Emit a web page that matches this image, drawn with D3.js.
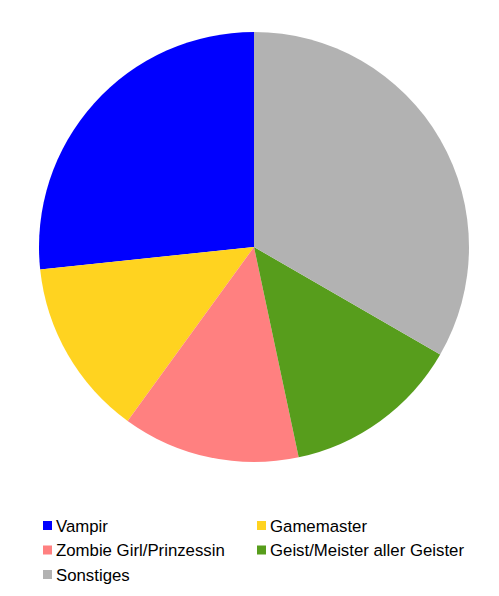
<!DOCTYPE html>
<html><head><meta charset="utf-8">
<script src="https://cdn.jsdelivr.net/npm/d3@7"></script>
<style>body{margin:0;background:#fff}</style>
</head><body>
<svg id="c" width="499" height="596"></svg>
<script>
const categories = ["Vampir","Gamemaster","Zombie Girl/Prinzessin","Geist/Meister aller Geister","Sonstiges"];
const values = [4,2,2,2,5];
const colors = ["#0000ff","#ffd320","#ff8080","#579d1c","#b2b2b2"];

const svg = d3.select("#c");
const cx = 254, cy = 247, r = 215;
const pie = d3.pie().sort(null).startAngle(0).endAngle(-2*Math.PI);
const arc = d3.arc().innerRadius(0).outerRadius(r);
const color = d3.scaleOrdinal().domain(categories).range(colors);

svg.append("g").attr("transform",`translate(${cx},${cy})`)
  .selectAll("path").data(pie(values)).enter().append("path")
  .attr("d",arc).attr("fill",(d,i)=>color(categories[i]));

const lg = svg.append("g");
categories.forEach((c,i)=>{
  const col = i%2, row = Math.floor(i/2);
  const x = col===0 ? 43 : 257;
  const y = 521 + row*24.5;
  lg.append("rect").attr("x",x).attr("y",y).attr("width",9).attr("height",9).attr("fill",color(c));
  lg.append("text").attr("x",x+13).attr("y",y+10.5)
    .attr("font-family","Liberation Sans, Arial, sans-serif").attr("font-size",16.8)
    .attr("fill","#000").text(c);
});
</script>
</body></html>
